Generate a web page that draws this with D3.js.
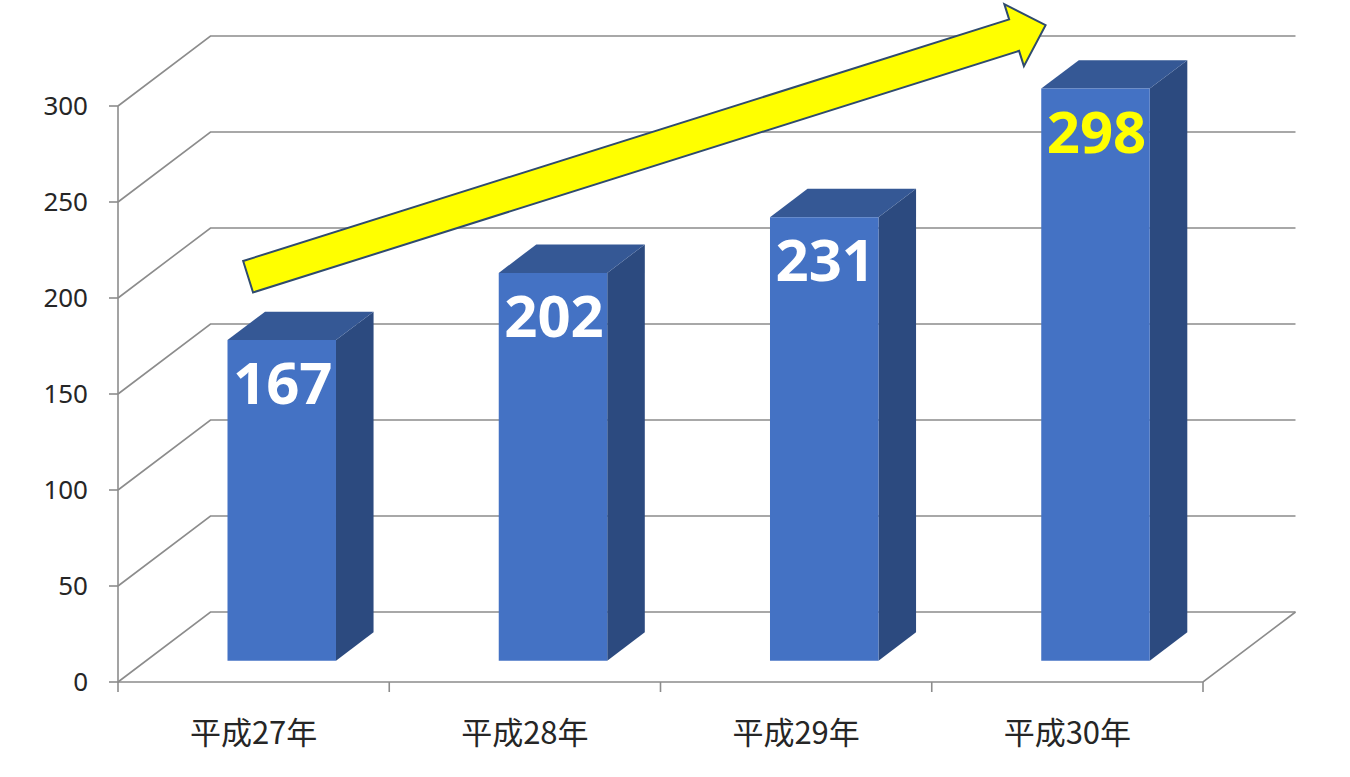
<!DOCTYPE html>
<html>
  <head>
    <meta charset="utf-8" />
    <script src="https://d3js.org/d3.v7.min.js"></script>
    <style>
      body { margin: 0; background: #fff; }
    </style>
  </head>
  <body>
    <svg id="chart"></svg>
    <script>
      // Data
      var categories = ["平成27年", "平成28年", "平成29年", "平成30年"];
      var values = [167, 202, 231, 298];
      var yTicks = [0, 50, 100, 150, 200, 250, 300];
      // value label colour per bar (last one highlighted)
      var labelColors = ["#ffffff", "#ffffff", "#ffffff", "#ffff00"];
      // trend arrow: from first category to last, in value units
      var trendFrom = { cat: "平成27年", value: 200 };
      var trendTo = { cat: "平成30年", value: 331 };

      var width = 1350;
      var height = 777;

      var svg = d3.select("#chart").attr("width", width).attr("height", height);

      // front plane scales
      var x = d3
        .scaleBand()
        .domain(categories)
        .range([118, 1203])
        .paddingInner(0.6)
        .paddingOuter(0.3);

      var y = d3.scaleLinear().domain([0, 300]).range([682, 106]);

      // depth offset of the back wall
      var DX = 92.5;
      var DY = -70;
      // bars sit between these depths
      var t0 = 0.304;
      var t1 = 0.71;

      function proj(px, v, t) {
        return [px + t * DX, y(v) + t * DY];
      }

      var line = d3.line();
      var gridColor = "#8c8c8c";

      // gridlines: side wall diagonal + back wall horizontal
      var grid = svg.append("g");
      grid
        .selectAll("path")
        .data(yTicks)
        .join("path")
        .attr("d", (d) =>
          line([proj(118, d, 0), proj(118, d, 1), proj(1203, d, 1)])
        )
        .attr("fill", "none")
        .attr("stroke", gridColor)
        .attr("stroke-width", 1.6);

      // floor right edge and front edge
      svg
        .append("path")
        .attr("d", line([proj(118, 0, 0), proj(1203, 0, 0), proj(1203, 0, 1)]))
        .attr("fill", "none")
        .attr("stroke", gridColor)
        .attr("stroke-width", 1.6);

      // y axis line and ticks
      svg
        .append("line")
        .attr("x1", 118)
        .attr("x2", 118)
        .attr("y1", y(0) + 1)
        .attr("y2", y(300))
        .attr("stroke", gridColor)
        .attr("stroke-width", 1.6);

      svg
        .append("g")
        .selectAll("line")
        .data(yTicks)
        .join("line")
        .attr("x1", 109)
        .attr("x2", 118)
        .attr("y1", (d) => y(d))
        .attr("y2", (d) => y(d))
        .attr("stroke", gridColor)
        .attr("stroke-width", 1.6);

      svg
        .append("g")
        .selectAll("text")
        .data(yTicks)
        .join("text")
        .attr("x", 88)
        .attr("y", (d) => y(d))
        .attr("dy", "0.36em")
        .attr("text-anchor", "end")
        .style("font-family", "'Noto Sans', 'Open Sans', sans-serif")
        .style("font-size", "26px")
        .style("fill", "#262626")
        .text((d) => d);

      // category ticks on the front edge
      var step = x.step();
      var catTicks = d3.range(categories.length + 1).map((i) => 118 + i * step);
      svg
        .append("g")
        .selectAll("line")
        .data(catTicks)
        .join("line")
        .attr("x1", (d) => d)
        .attr("x2", (d) => d)
        .attr("y1", y(0))
        .attr("y2", y(0) + 10)
        .attr("stroke", gridColor)
        .attr("stroke-width", 1.6);

      svg
        .append("g")
        .selectAll("text")
        .data(categories)
        .join("text")
        .attr("x", (d) => x(d) + x.bandwidth() / 2)
        .attr("y", 744)
        .attr("text-anchor", "middle")
        .style("font-family", "'Noto Sans CJK JP', sans-serif")
        .style("font-size", "31px")
        .style("fill", "#262626")
        .text((d) => d);

      // 3D bars
      var bars = categories.map((c, i) => ({ cat: c, value: values[i], i: i }));
      var bw = x.bandwidth();

      var barG = svg
        .append("g")
        .selectAll("g")
        .data(bars)
        .join("g");

      // side face
      barG
        .append("path")
        .attr("d", (d) => {
          var x1 = x(d.cat) + bw;
          return (
            line([
              proj(x1, 0, t0),
              proj(x1, 0, t1),
              proj(x1, d.value, t1),
              proj(x1, d.value, t0),
            ]) + "Z"
          );
        })
        .attr("fill", "#2c4a7f");

      // top face
      barG
        .append("path")
        .attr("d", (d) => {
          var x0 = x(d.cat);
          var x1 = x0 + bw;
          return (
            line([
              proj(x0, d.value, t0),
              proj(x1, d.value, t0),
              proj(x1, d.value, t1),
              proj(x0, d.value, t1),
            ]) + "Z"
          );
        })
        .attr("fill", "#355895");

      // front face
      barG
        .append("path")
        .attr("d", (d) => {
          var x0 = x(d.cat);
          var x1 = x0 + bw;
          return (
            line([
              proj(x0, 0, t0),
              proj(x1, 0, t0),
              proj(x1, d.value, t0),
              proj(x0, d.value, t0),
            ]) + "Z"
          );
        })
        .attr("fill", "#4472c4");

      // value labels inside the bars
      barG
        .append("text")
        .attr("x", (d) => proj(x(d.cat) + bw / 2, d.value, t0)[0] + 1)
        .attr("y", (d) => proj(x(d.cat) + bw / 2, d.value, t0)[1] + 64)
        .attr("text-anchor", "middle")
        .style("font-family", "'Open Sans', 'Noto Sans', sans-serif")
        .style("font-weight", "bold")
        .style("font-size", "58px")
        .style("fill", (d) => labelColors[d.i])
        .text((d) => d.value);

      // trend arrow
      var a = proj(x(trendFrom.cat) + bw * 0.19, trendFrom.value, t0);
      var b = proj(x(trendTo.cat) + bw * 0.04, trendTo.value, t0);
      var len = Math.hypot(b[0] - a[0], b[1] - a[1]);
      var ux = (b[0] - a[0]) / len;
      var uy = (b[1] - a[1]) / len;
      var nx = -uy;
      var ny = ux;
      var hw = 16.5; // shaft half width
      var hh = 32.5; // head half width
      var hl = 33; // head length
      function pt(along, across) {
        return [a[0] + ux * along + nx * across, a[1] + uy * along + ny * across];
      }
      svg
        .append("path")
        .attr(
          "d",
          line([
            pt(0, -hw),
            pt(len - hl, -hw),
            pt(len - hl, -hh),
            pt(len, 0),
            pt(len - hl, hh),
            pt(len - hl, hw),
            pt(0, hw),
          ]) + "Z"
        )
        .attr("fill", "#ffff00")
        .attr("stroke", "#2f4b6e")
        .attr("stroke-width", 2)
        .attr("stroke-linejoin", "miter");
    </script>
  </body>
</html>
